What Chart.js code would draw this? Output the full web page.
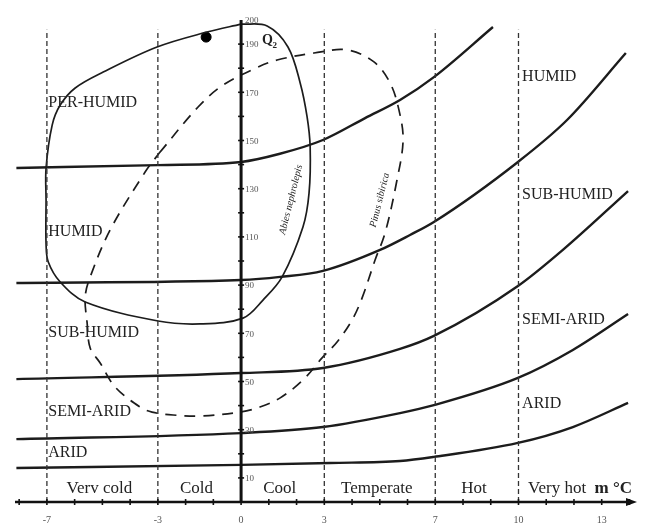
<!DOCTYPE html>
<html>
<head>
<meta charset="utf-8">
<script src="https://cdn.jsdelivr.net/npm/chart.js@4.4.1/dist/chart.umd.min.js"></script>
<style>
  html, body { margin: 0; padding: 0; background: #fff; }
  #wrap { width: 647px; height: 526px; }
</style>
</head>
<body>
<div id="wrap"><canvas id="chart"></canvas></div>
<script>
/* Emberger climagram: Q2 against m (mean min. of coldest month) */

// thermal zones along m (°C)
const zoneEdges = [-7, -3, 0, 3, 7, 10, 13];
const zoneNames = ['Verv cold', 'Cold', 'Cool', 'Temperate', 'Hot', 'Very hot'];
const dashedBounds = [-7, -3, 3, 7, 10];
const xTickLabels = [-7, -3, 0, 3, 7, 10, 13];
const yTickLabels = [10, 30, 50, 70, 90, 110, 130, 150, 170, 190, 200];
const climateNames = ['PER-HUMID', 'HUMID', 'SUB-HUMID', 'SEMI-ARID', 'ARID'];

// bioclimatic boundaries, [m, Q2]
const perHumidBound = [[-8.1, 138.6], [-3, 139.8], [0, 141.1], [1.4, 144.5], [2.95, 150.2], [4.47, 159.3], [5.73, 166.8], [6.95, 176.3], [9.08, 197.1]];
const humidBound = [[-8.1, 90.9], [0, 92.1], [1.41, 93.4], [2.95, 95.9], [5.01, 104.6], [6.09, 110.8], [6.95, 116.2], [9.98, 141.1], [11.75, 158.5], [13.87, 186.3]];
const subHumidBound = [[-8.1, 51.0], [0, 53.5], [2.95, 55.6], [5.73, 63.5], [6.95, 68.9], [9.98, 89.6], [11.6, 104.6], [13.95, 129.0]];
const semiAridBound = [[-8.1, 26.1], [0, 28.6], [2.95, 31.1], [5.73, 36.9], [6.95, 40.2], [9.98, 51.5], [11.96, 63.1], [13.95, 78.0]];
const aridBound = [[-8.1, 14.1], [0, 15.4], [3.21, 16.2], [5.73, 17.0], [6.95, 18.7], [9.98, 24.5], [11.96, 31.1], [13.95, 41.1]];

// species envelopes, [m, Q2]
const abiesLoop = [[0, 198.3], [0.94, 197.5], [1.69, 188.8], [2.13, 173.9], [2.38, 159.8], [2.49, 147.3], [2.45, 128.2], [2.23, 114.1], [1.48, 93.4], [0.79, 83.8], [0.07, 76.3], [-1.48, 73.9], [-2.99, 75.1], [-5.62, 83.0], [-6.52, 91.3], [-6.95, 99.6], [-7.03, 107], [-7.03, 125.3], [-7.03, 138.6], [-6.81, 156.4], [-6.52, 164.7], [-5.98, 171.8], [-4.97, 178.4], [-3.03, 188.8], [-1.23, 195.0], [0, 198.3]];
const pinusLoop = [[-2.95, 144.8], [-1.55, 163.9], [-0.65, 173.0], [0.54, 180.1], [1.30, 183.4], [2.63, 186.3], [3.82, 187.6], [4.79, 182.6], [5.37, 173.9], [5.69, 162.7], [5.84, 150.2], [5.62, 133.6], [5.19, 111.6], [4.83, 100.4], [4.36, 84.6], [4.00, 75.5], [3.46, 66.4], [2.92, 59.8], [2.23, 50.6], [1.41, 43.2], [0.68, 39.4], [-0.04, 37.3], [-1.48, 35.7], [-2.45, 36.1], [-3.21, 37.3], [-3.64, 39.4], [-4.54, 47.7], [-5.08, 57.7], [-5.44, 63.9], [-5.55, 74.3], [-5.62, 85.1], [-5.44, 93.4], [-4.72, 112.9], [-3.46, 136.9], [-2.95, 144.8]];
const station = [[-1.26, 192.9]];

const INK = '#1c1c1c';
const SERIF = '"Liberation Serif", "DejaVu Serif", serif';

function pts(arr) { return arr.map(([x, y]) => ({ x, y })); }

function boundary(arr) {
  return {
    data: pts(arr), showLine: true, borderColor: INK, borderWidth: 2.4,
    pointRadius: 0, cubicInterpolationMode: 'monotone', fill: false,
  };
}

const datasets = [];
dashedBounds.forEach(b => {
  datasets.push({
    data: [{ x: b, y: 0 }, { x: b, y: 196 }], showLine: true,
    borderColor: '#333', borderWidth: 1.3, borderDash: [5, 3], pointRadius: 0,
  });
});
[perHumidBound, humidBound, subHumidBound, semiAridBound, aridBound].forEach(b => datasets.push(boundary(b)));
datasets.push({ data: pts(abiesLoop), showLine: true, borderColor: INK, borderWidth: 1.7, tension: 0.35, pointRadius: 0 });
datasets.push({ data: pts(pinusLoop), showLine: true, borderColor: INK, borderWidth: 1.7, borderDash: [11, 8], tension: 0.35, pointRadius: 0 });
datasets.push({ data: pts(station), showLine: false, pointRadius: 5, backgroundColor: '#000', borderColor: '#000' });

function line(ctx, x1, y1, x2, y2) {
  ctx.beginPath(); ctx.moveTo(x1, y1); ctx.lineTo(x2, y2); ctx.stroke();
}

const diagramFrame = {
  id: 'diagramFrame',
  afterDatasetsDraw(chart) {
    const { ctx, chartArea } = chart;
    const x = chart.scales.x, y = chart.scales.y;
    const x0 = x.getPixelForValue(0);
    const yb = y.getPixelForValue(0);
    ctx.save();
    ctx.strokeStyle = '#111';
    ctx.fillStyle = '#111';

    // Q2 axis through m = 0
    ctx.lineWidth = 3;
    line(ctx, x0, yb, x0, y.getPixelForValue(200));
    ctx.lineWidth = 1.6;
    for (let q = 10; q < 200; q += 10) {
      const p = y.getPixelForValue(q);
      line(ctx, x0 - 3, p, x0 + 3, p);
    }
    ctx.font = '9px ' + SERIF;
    ctx.fillStyle = '#555';
    ctx.textAlign = 'left';
    ctx.textBaseline = 'middle';
    yTickLabels.forEach(q => ctx.fillText(String(q), x0 + 4, y.getPixelForValue(q) + 1));

    // m axis with arrow
    ctx.fillStyle = '#111';
    ctx.lineWidth = 2.5;
    line(ctx, chartArea.left, yb, chartArea.right - 4, yb);
    ctx.beginPath();
    ctx.moveTo(chartArea.right + 2, yb);
    ctx.lineTo(chartArea.right - 9, yb - 4);
    ctx.lineTo(chartArea.right - 9, yb + 4);
    ctx.closePath();
    ctx.fill();
    ctx.lineWidth = 1.6;
    for (let m = -8; m <= 14; m++) {
      const p = x.getPixelForValue(m);
      line(ctx, p, yb - 3, p, yb + 3);
    }
    ctx.font = '10px ' + SERIF;
    ctx.fillStyle = '#555';
    ctx.textAlign = 'center';
    xTickLabels.forEach(v => ctx.fillText(String(v), x.getPixelForValue(v), yb + 18));

    // thermal zone names
    ctx.fillStyle = '#222';
    ctx.font = '17px ' + SERIF;
    zoneNames.forEach((n, i) => {
      const mid = (zoneEdges[i] + zoneEdges[i + 1]) / 2;
      ctx.fillText(n, x.getPixelForValue(mid) - 3, yb - 13);
    });
    ctx.font = 'bold 17px ' + SERIF;
    ctx.textAlign = 'right';
    ctx.fillText('m °C', chartArea.right - 3, yb - 13);

    // climate names, left and right of the diagram
    ctx.font = '16px ' + SERIF;
    ctx.textAlign = 'left';
    const leftQ = [165.6, 112, 70.1, 37.3, 20.3];
    climateNames.forEach((n, i) => ctx.fillText(n, x.getPixelForValue(-6.95), y.getPixelForValue(leftQ[i])));
    const rightQ = [176.3, 127.4, 75.5, 40.7];
    climateNames.slice(1).forEach((n, i) => ctx.fillText(n, x.getPixelForValue(10.13), y.getPixelForValue(rightQ[i])));

    // Q2 caption
    ctx.font = 'bold 14px ' + SERIF;
    ctx.fillText('Q', x.getPixelForValue(0.75), y.getPixelForValue(191.5));
    ctx.font = 'bold 9px ' + SERIF;
    ctx.fillText('2', x.getPixelForValue(1.13), y.getPixelForValue(189.5));

    // species names along the envelopes
    ctx.font = 'italic 10px ' + SERIF;
    ctx.textAlign = 'center';
    [['Abies nephrolepis', 1.8, 125.5], ['Pinus sibirica', 5.0, 125.3]].forEach(([t, m, q]) => {
      ctx.save();
      ctx.translate(x.getPixelForValue(m), y.getPixelForValue(q));
      ctx.rotate(-76 * Math.PI / 180);
      ctx.fillText(t, 0, 0);
      ctx.restore();
    });
    ctx.restore();
  }
};

new Chart(document.getElementById('chart'), {
  type: 'scatter',
  data: { datasets },
  options: {
    responsive: true,
    maintainAspectRatio: false,
    animation: false,
    layout: { padding: { left: 15, right: 12, top: 20, bottom: 24 } },
    plugins: { legend: { display: false }, tooltip: { enabled: false } },
    scales: {
      x: { type: 'linear', min: -8.15, max: 14.2, display: false },
      y: { type: 'linear', min: 0, max: 200, display: false },
    },
  },
  plugins: [diagramFrame],
});
</script>
</body>
</html>
